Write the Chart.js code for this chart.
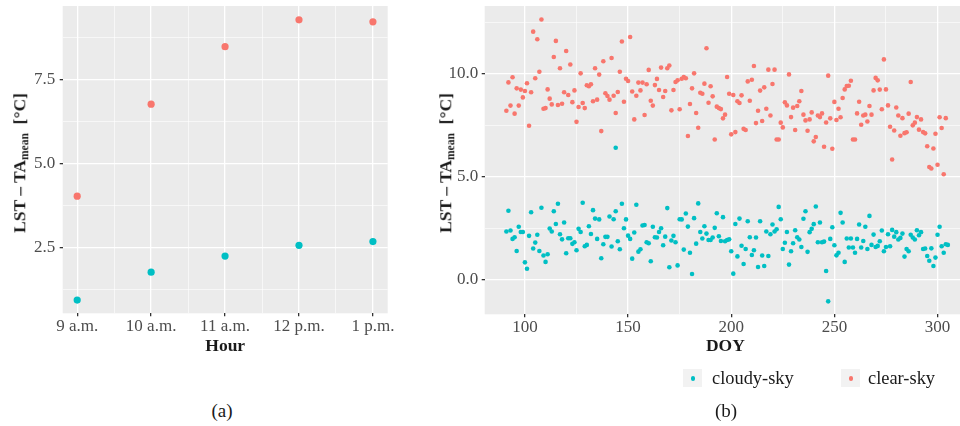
<!DOCTYPE html>
<html>
<head>
<meta charset="utf-8">
<script src="https://cdn.jsdelivr.net/npm/chart.js@4.4.1/dist/chart.umd.min.js"></script>
<style>
  html, body { margin: 0; padding: 0; background: #fff; }
  #page { position: relative; width: 960px; height: 426px; overflow: hidden; font-family: 'Liberation Serif', serif; }
  canvas { position: absolute; top: 0; }
  .ytitle { position: absolute; transform: translate(-50%, -50%) rotate(-90deg); white-space: nowrap;
            font-weight: bold; font-size: 17.5px; color: #1a1a1a; }
  .ytitle sub { font-size: 11.5px; vertical-align: -0.3em; }
  .key { position: absolute; width: 19px; height: 18px; background: #F2F2F2; }
  .key i { position: absolute; left: 7.5px; top: 7px; width: 4.5px; height: 4.5px; border-radius: 50%; }
  .ltext { position: absolute; font-size: 18.4px; color: #1a1a1a; transform: translateY(-50%); white-space: nowrap; }
  .cap { position: absolute; font-size: 19px; color: #1a1a1a; transform: translate(-50%, -50%); }
</style>
</head>
<body>
<div id="page">
  <canvas id="chartA" width="400" height="370" style="left:0"></canvas>
  <canvas id="chartB" width="550" height="370" style="left:420px"></canvas>
  <div class="ytitle" style="left:20px; top:163px">LST – TA<sub>mean</sub>&nbsp;&nbsp;[°C]</div>
  <div class="ytitle" style="left:446px; top:163px">LST – TA<sub>mean</sub>&nbsp;&nbsp;[°C]</div>
  <div class="key" style="left:683px; top:369px"><i style="background:#00BFC4"></i></div>
  <div class="ltext" style="left:712px; top:378px">cloudy-sky</div>
  <div class="key" style="left:841px; top:369px"><i style="background:#F8766D"></i></div>
  <div class="ltext" style="left:868px; top:378px">clear-sky</div>
  <div class="cap" style="left:222px; top:411px">(a)</div>
  <div class="cap" style="left:726px; top:411px">(b)</div>
</div>
<script>
// panel (a): mean difference by hour
const hours = ['9 a.m.', '10 a.m.', '11 a.m.', '12 p.m.', '1 p.m.'];
const hourPos = [0, 1, 2, 3, 4];
const cloudyHour = [0.95, 1.78, 2.26, 2.58, 2.69];
const clearHour = [4.04, 6.78, 8.49, 9.29, 9.23];

// panel (b): daily values
const clearDoy = [
  91, 92, 93, 94, 95, 96, 97, 98, 99, 100, 101, 102, 103, 104, 105, 106, 107, 108, 109, 110,
  111, 112, 113, 114, 115, 116, 117, 118, 119, 120, 121, 122, 123, 124, 125, 126, 127, 128, 129, 130,
  131, 132, 133, 134, 135, 136, 137, 138, 139, 140, 141, 142, 143, 144, 145, 146, 147, 148, 149, 150,
  151, 152, 153, 154, 155, 156, 157, 158, 159, 160, 161, 162, 163, 164, 165, 166, 167, 168, 169, 170,
  171, 172, 173, 174, 175, 176, 177, 178, 179, 180, 181, 182, 183, 184, 185, 186, 187, 188, 189, 190,
  191, 192, 193, 194, 195, 196, 197, 198, 199, 200, 201, 202, 203, 204, 205, 206, 207, 208, 209, 210,
  211, 212, 213, 214, 215, 216, 217, 218, 219, 220, 221, 222, 223, 224, 225, 226, 227, 228, 229, 230,
  231, 232, 233, 234, 235, 236, 237, 238, 239, 240, 241, 242, 243, 244, 245, 246, 247, 248, 249, 250,
  251, 252, 253, 254, 255, 256, 257, 258, 259, 260, 261, 262, 263, 264, 265, 266, 267, 268, 269, 270,
  271, 272, 273, 274, 275, 276, 277, 278, 279, 280, 281, 282, 283, 284, 285, 286, 287, 288, 289, 290,
  291, 292, 293, 294, 295, 296, 297, 298, 299, 300, 301, 302, 303, 304
];
const clearVals = [
  8.21, 9.59, 8.46, 9.84, 8.07, 9.30, 8.46, 9.24, 8.86, 9.17, 9.55, 7.48, 9.11, 12.06, 9.79, 11.69, 10.11, 12.65, 8.31, 8.34,
  9.25, 8.80, 8.52, 10.83, 11.61, 8.49, 10.28, 8.55, 9.11, 11.12, 8.98, 10.46, 8.63, 9.20, 7.67, 8.39, 10.03, 8.59, 8.34, 9.45,
  9.40, 9.50, 8.67, 10.28, 8.75, 9.97, 7.22, 10.62, 9.06, 8.93, 8.75, 10.78, 8.94, 8.10, 9.12, 10.11, 11.58, 8.65, 9.77, 9.66,
  11.80, 9.15, 7.79, 8.94, 9.58, 9.20, 9.58, 8.00, 9.50, 10.20, 8.70, 8.46, 9.46, 9.76, 9.22, 10.31, 8.88, 9.17, 10.28, 10.41,
  8.23, 9.22, 9.61, 9.69, 8.28, 9.77, 9.85, 9.79, 6.98, 8.54, 9.30, 10.03, 8.10, 7.38, 9.09, 9.04, 9.53, 11.25, 8.60, 9.40,
  8.91, 6.81, 8.41, 8.34, 8.29, 7.84, 8.02, 9.85, 9.04, 7.06, 8.98, 7.17, 8.67, 8.59, 8.96, 7.33, 7.27, 9.64, 8.70, 9.72,
  10.39, 7.61, 8.21, 9.19, 7.71, 9.35, 8.31, 10.21, 7.98, 9.51, 10.21, 6.81, 6.81, 7.63, 7.40, 8.62, 8.47, 9.98, 7.90, 8.36,
  7.27, 8.44, 8.67, 9.17, 8.02, 7.74, 7.24, 7.79, 8.13, 6.72, 6.93, 7.98, 7.90, 8.08, 6.46, 7.64, 9.92, 7.84, 6.36, 8.64,
  7.76, 8.31, 7.89, 8.83, 9.25, 9.41, 9.43, 9.67, 6.81, 6.81, 8.08, 8.65, 7.53, 7.98, 8.02, 7.69, 8.44, 8.02, 9.20, 9.81,
  9.69, 9.24, 8.28, 10.71, 9.25, 8.47, 7.43, 5.84, 7.25, 8.37, 7.98, 6.99, 7.85, 7.12, 7.16, 8.07, 9.61, 7.50, 7.63, 7.90,
  7.29, 7.79, 7.17, 7.11, 6.48, 5.47, 5.40, 6.37, 7.09, 5.58, 7.89, 7.37, 5.12, 7.85
];
const cloudyDoy = [
  91, 92, 93, 94, 95, 96, 97, 98, 99, 100, 101, 102, 103, 104, 105, 106, 107, 108, 109, 110,
  111, 112, 113, 114, 115, 116, 117, 118, 119, 120, 121, 122, 123, 124, 125, 126, 127, 128, 129, 130,
  131, 132, 133, 134, 135, 136, 137, 138, 139, 140, 141, 142, 143, 144, 145, 146, 147, 148, 149, 150,
  151, 152, 153, 154, 155, 156, 157, 158, 159, 160, 161, 162, 163, 164, 165, 166, 167, 168, 169, 170,
  171, 172, 173, 174, 175, 176, 177, 178, 179, 180, 181, 182, 183, 184, 185, 186, 187, 188, 189, 190,
  191, 192, 193, 194, 195, 196, 197, 198, 199, 200, 201, 202, 203, 204, 205, 206, 207, 208, 209, 210,
  211, 212, 213, 214, 215, 216, 217, 218, 219, 220, 221, 222, 223, 224, 225, 226, 227, 228, 229, 230,
  231, 232, 233, 234, 235, 236, 237, 238, 239, 240, 241, 242, 243, 244, 245, 246, 247, 248, 249, 250,
  251, 252, 253, 254, 255, 256, 257, 258, 259, 260, 261, 262, 263, 264, 265, 266, 267, 268, 269, 270,
  271, 272, 273, 274, 275, 276, 277, 278, 279, 280, 281, 282, 283, 284, 285, 286, 287, 288, 289, 290,
  291, 292, 293, 294, 295, 296, 297, 298, 299, 300, 301, 302, 303, 304, 305, 144
];
const cloudyVals = [
  2.33, 3.34, 2.38, 1.97, 2.05, 1.38, 2.56, 2.31, 2.31, 0.83, 0.52, 2.12, 3.27, 1.50, 1.79, 2.17, 1.38, 3.49, 1.16, 0.85,
  1.22, 2.48, 2.33, 3.32, 2.70, 3.68, 2.20, 1.95, 2.77, 1.27, 2.00, 2.00, 1.73, 1.81, 1.42, 2.46, 2.31, 3.73, 1.61, 1.68,
  2.59, 2.21, 3.37, 2.96, 1.97, 2.92, 1.03, 1.71, 2.07, 2.07, 3.06, 1.60, 2.93, 3.32, 1.86, 1.47, 3.68, 2.49, 2.92, 2.13,
  1.97, 1.01, 2.28, 3.63, 1.35, 1.47, 2.62, 2.65, 1.81, 1.76, 0.88, 2.56, 2.05, 2.04, 2.31, 2.49, 1.66, 2.08, 3.47, 0.59,
  1.89, 2.12, 1.81, 0.68, 2.93, 2.92, 1.45, 3.21, 2.57, 1.30, 0.26, 2.98, 1.74, 3.70, 2.31, 1.99, 2.59, 2.23, 1.92, 1.92,
  2.04, 2.51, 3.22, 2.10, 1.87, 3.03, 1.86, 1.92, 1.95, 1.37, 0.28, 2.70, 1.12, 2.96, 1.64, 0.75, 1.48, 2.83, 2.05, 1.19,
  1.42, 2.04, 0.60, 2.83, 1.16, 0.65, 2.33, 1.14, 2.20, 2.67, 2.33, 2.44, 3.53, 2.93, 1.48, 1.78, 2.31, 0.72, 1.37, 1.76,
  2.39, 2.05, 1.94, 1.58, 2.95, 3.32, 1.34, 2.30, 2.46, 2.69, 3.55, 1.81, 2.77, 1.81, 1.84, 0.41, -1.07, 1.97, 2.54, 1.66,
  1.17, 1.30, 3.24, 2.77, 0.85, 1.99, 1.55, 1.99, 1.55, 1.30, 1.97, 2.67, 1.55, 1.87, 2.56, 1.48, 3.09, 1.68, 2.18, 1.58,
  1.63, 1.86, 2.38, 1.37, 1.58, 2.20, 1.61, 2.41, 2.08, 2.30, 1.94, 2.02, 2.23, 1.11, 1.48, 1.37, 2.17, 2.04, 1.94, 2.39,
  2.15, 2.30, 1.48, 1.50, 1.14, 0.91, 1.51, 0.65, 1.06, 2.17, 2.56, 1.61, 1.30, 1.71, 1.68, 6.41
];

const CYAN = '#00BFC4';
const RED = '#F8766D';
Chart.defaults.font.family = "'Liberation Serif', serif";
Chart.defaults.color = '#4D4D4D';

const panelBg = {
    id: 'panelBg',
    beforeDraw(chart) {
        const { ctx, chartArea: a } = chart;
        ctx.save();
        ctx.fillStyle = '#EBEBEB';
        ctx.fillRect(a.left, a.top, a.right - a.left, a.bottom - a.top);
        ctx.restore();
    }
};

const toPoints = (xs, ys) => xs.map((x, i) => ({ x: x, y: ys[i] }));

// gridline styles: major lines thicker, minor lines thin and without tick marks
function gridFor(isMajor) {
    return {
        color: '#FFFFFF',
        lineWidth: c => (c.tick && isMajor(c.tick.value) ? 1.3 : 0.6),
        tickColor: c => (c.tick && isMajor(c.tick.value) ? '#333333' : 'rgba(0,0,0,0)'),
        tickLength: 3,
        drawTicks: true
    };
}

// fixed axis sizes so the plot areas sit where the reference has them
function fixSize(prop, size) {
    return s => {
        s[prop] = size;
        s.paddingTop = 0;
        s.paddingBottom = 0;
        s.paddingLeft = 0;
        s.paddingRight = 0;
    };
}

const isWhole = v => Math.abs(v - Math.round(v)) < 1e-6;
const isMult = (v, m) => Math.abs(v / m - Math.round(v / m)) < 1e-6;

new Chart(document.getElementById('chartA'), {
    type: 'scatter',
    data: {
        datasets: [
            { label: 'cloudy-sky', data: toPoints(hourPos, cloudyHour), backgroundColor: CYAN, pointRadius: 3.6, borderWidth: 0 },
            { label: 'clear-sky', data: toPoints(hourPos, clearHour), backgroundColor: RED, pointRadius: 3.6, borderWidth: 0 }
        ]
    },
    options: {
        responsive: false,
        animation: false,
        events: [],
        layout: { padding: { top: 6, right: 12.3, left: 0, bottom: 0 } },
        plugins: { legend: { display: false }, tooltip: { enabled: false } },
        scales: {
            x: {
                type: 'linear',
                min: -0.196,
                max: 4.2,
                afterFit: fixSize('height', 56.7),
                border: { display: false },
                grid: gridFor(isWhole),
                ticks: {
                    stepSize: 0.5,
                    includeBounds: false,
                    autoSkip: false,
                    maxRotation: 0,
                    padding: 0,
                    font: { size: 17 },
                    callback: v => (isWhole(v) ? hours[Math.round(v)] : '')
                },
                title: { display: true, text: 'Hour', color: '#1a1a1a', font: { size: 17.5, weight: 'bold' }, padding: { top: 0, bottom: 12.8 } }
            },
            y: {
                min: 0.556,
                max: 9.7,
                afterFit: fixSize('width', 62.7),
                border: { display: false },
                grid: gridFor(v => isMult(v, 2.5)),
                ticks: {
                    stepSize: 1.25,
                    includeBounds: false,
                    autoSkip: false,
                    padding: 4.5,
                    font: { size: 17 },
                    callback: v => (isMult(v, 2.5) ? v.toFixed(1) : '')
                }
            }
        }
    },
    plugins: [panelBg]
});

new Chart(document.getElementById('chartB'), {
    type: 'scatter',
    data: {
        datasets: [
            { label: 'cloudy-sky', data: toPoints(cloudyDoy, cloudyVals), backgroundColor: CYAN, pointRadius: 2.3, borderWidth: 0 },
            { label: 'clear-sky', data: toPoints(clearDoy, clearVals), backgroundColor: RED, pointRadius: 2.3, borderWidth: 0 }
        ]
    },
    options: {
        responsive: false,
        animation: false,
        events: [],
        layout: { padding: { top: 6, right: 0, left: 0, bottom: 0 } },
        plugins: { legend: { display: false }, tooltip: { enabled: false } },
        scales: {
            x: {
                min: 80.5,
                max: 313.8,
                afterFit: fixSize('height', 55.7),
                border: { display: false },
                grid: gridFor(v => isMult(v, 50)),
                ticks: {
                    stepSize: 25,
                    includeBounds: false,
                    autoSkip: false,
                    maxRotation: 0,
                    padding: 0,
                    font: { size: 17 },
                    callback: v => (isMult(v, 50) ? String(v) : '')
                },
                title: { display: true, text: 'DOY', color: '#1a1a1a', font: { size: 17.5, weight: 'bold' }, padding: { top: 0, bottom: 12.8 } }
            },
            y: {
                min: -1.7,
                max: 13.31,
                afterFit: fixSize('width', 64.7),
                border: { display: false },
                grid: gridFor(v => isMult(v, 5)),
                ticks: {
                    stepSize: 2.5,
                    includeBounds: false,
                    autoSkip: false,
                    padding: 3.5,
                    font: { size: 17 },
                    callback: v => (isMult(v, 5) ? v.toFixed(1) : '')
                }
            }
        }
    },
    plugins: [panelBg]
});
</script>
</body>
</html>
